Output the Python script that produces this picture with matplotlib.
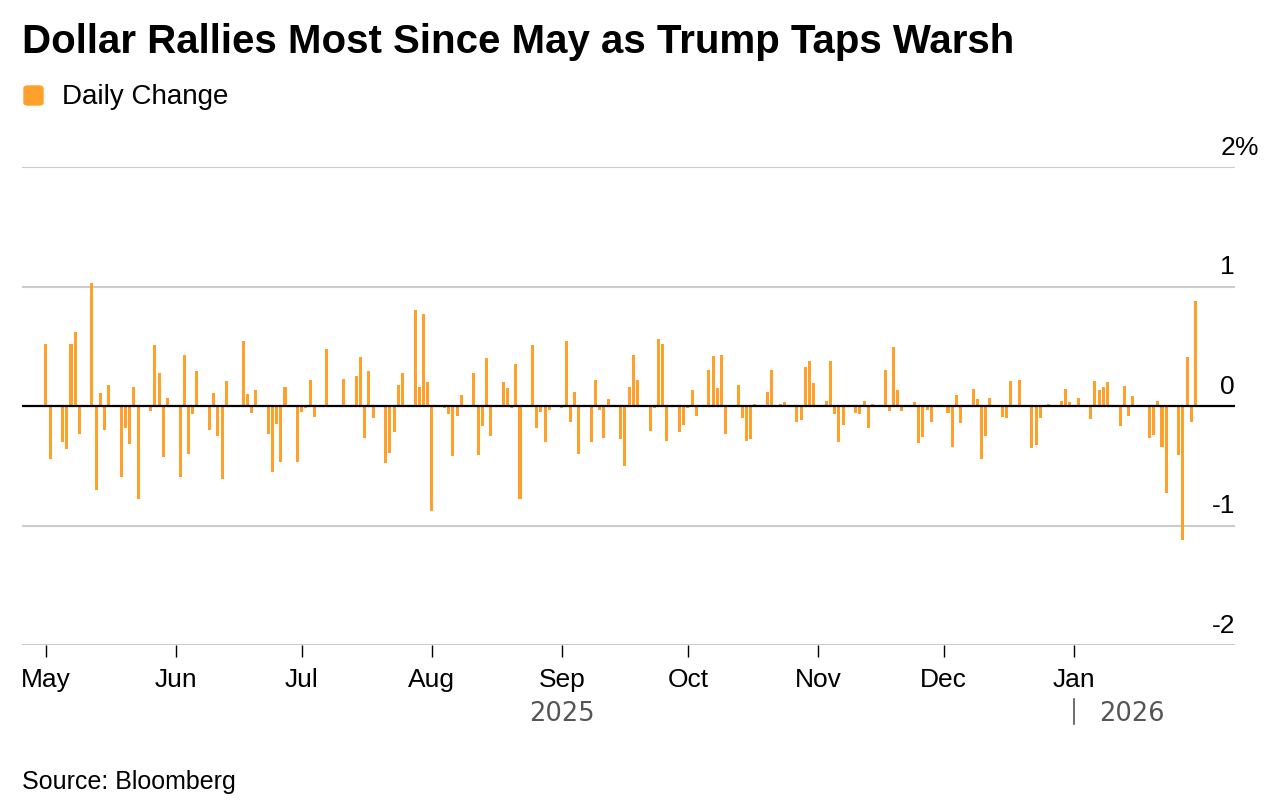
import matplotlib
matplotlib.use("Agg")
import matplotlib.pyplot as plt
import matplotlib.dates as mdates
import matplotlib.transforms as mtransforms
from matplotlib.patches import FancyBboxPatch
import numpy as np
import pandas as pd

plt.rcParams['font.family'] = ['Liberation Sans', 'DejaVu Sans']

# Daily change (%) for every weekday, May 1 2025 - Jan 30 2026
may = [0.52, -0.44,
       -0.30, -0.36, 0.52, 0.62, -0.23,
       1.03, -0.70, 0.11, -0.20, 0.18,
       -0.59, -0.18, -0.32, 0.16, -0.78,
       -0.04, 0.51, 0.28, -0.43, 0.07]
jun = [-0.59, 0.43, -0.40, -0.07, 0.29,
       -0.20, 0.11, -0.25, -0.61, 0.21,
       0.01, 0.54, 0.10, -0.06, 0.13,
       -0.23, -0.55, -0.15, -0.47, 0.16,
       -0.47]
jul = [-0.05, -0.015, 0.22, -0.09,
       0.48, 0.01, 0.01, 0.01, 0.23,
       0.25, 0.41, -0.27, 0.29, -0.10,
       -0.48, -0.39, -0.22, 0.18, 0.28,
       0.80, 0.16, 0.77, 0.20]
aug = [-0.88,
       -0.02, -0.07, -0.42, -0.08, 0.09,
       0.28, -0.41, -0.17, 0.40, -0.25,
       0.20, 0.15, -0.02, 0.35, -0.78,
       0.51, -0.18, -0.05, -0.30, -0.03]
sep = [-0.02, 0.54, -0.13, 0.12, -0.40,
       -0.30, 0.22, -0.03, -0.27, 0.06,
       -0.28, -0.50, 0.16, 0.43, 0.22,
       -0.21, -0.02, 0.56, 0.52, -0.29,
       -0.22, -0.16]
oct_ = [-0.02, 0.13, -0.08,
        0.30, 0.42, 0.15, 0.43, -0.23,
        0.18, -0.10, -0.29, -0.28, 0.02,
        0.12, 0.30, -0.005, 0.015, 0.03,
        -0.13, -0.12, 0.33, 0.38, 0.19]
nov = [0.045, 0.38, -0.07, -0.30, -0.16,
       -0.06, -0.07, 0.04, -0.18, 0.02,
       0.30, -0.04, 0.49, 0.13, -0.04,
       0.03, -0.31, -0.26, -0.03, -0.13]
dec = [-0.005, -0.06, -0.34, 0.09, -0.14,
       0.14, 0.06, -0.44, -0.25, 0.07,
       -0.09, -0.10, 0.21, 0.01, 0.22,
       -0.35, -0.33, -0.10, 0.0, 0.02,
       0.04, 0.14, 0.03]
jan = [0.0, 0.07,
       -0.11, 0.21, 0.13, 0.16, 0.20,
       -0.17, 0.17, -0.08, 0.08, 0.0,
       -0.27, -0.24, 0.04, -0.34, -0.73,
       -0.41, -1.12, 0.41, -0.13, 0.88]

values = may + jun + jul + aug + sep + oct_ + nov + dec + jan
dates = pd.bdate_range("2025-05-01", "2026-01-30")

month_ticks = pd.date_range("2025-05-01", "2026-01-01", freq="MS")
y_ticks = [-2, -1, 0, 1, 2]
y_labels = ["-2", "-1", "0", "1", "2"]

orange = "#FFA02A"

fig = plt.figure(figsize=(12.82, 8.12), dpi=100)
ax = fig.add_axes([0.0172, 0.2044, 0.9462, 0.5887])

ax.bar(dates, values, width=0.72, color=orange, edgecolor="none", zorder=2)
ax.axhline(0, color="black", lw=1.6, zorder=3)

ax.set_ylim(-2, 2)
ax.set_xlim(pd.Timestamp("2025-04-25 08:00"), pd.Timestamp("2026-02-08 10:00"))

for y in y_ticks:
    if y != 0:
        ax.axhline(y, color="#cccccc", lw=1.5, zorder=1)
ax.set_yticks([])
ytrans = ax.get_yaxis_transform()
for y, lab in zip(y_ticks, y_labels):
    ax.text(1.0, y + 0.07, lab, transform=ytrans,
            ha="right", va="bottom", fontsize=19, color="black")
# the percent sign hangs past the right edge
ax.text(1.0, 2.07, "%", transform=ytrans, ha="left", va="bottom",
        fontsize=19, color="black", clip_on=False)

for s in ax.spines.values():
    s.set_visible(False)

ax.set_xticks(month_ticks)
ax.xaxis.set_major_formatter(mdates.DateFormatter("%b"))
ax.tick_params(axis="x", direction="out", length=8.5, width=1.0, color="black",
               pad=7, labelsize=19)

# year labels
trans = mtransforms.blended_transform_factory(ax.transData, ax.transAxes)
ax.text(pd.Timestamp("2025-09-01"), -0.142, "2025", transform=trans, ha="center",
        va="center", fontsize=18.5, color="#555555", family="DejaVu Sans")
ax.plot([pd.Timestamp("2026-01-01")] * 2, [-0.113, -0.165], transform=trans,
        color="#555555", lw=1.2, clip_on=False)
ax.text(pd.Timestamp("2026-01-07"), -0.142, "2026", transform=trans, ha="left",
        va="center", fontsize=18.5, color="#555555", family="DejaVu Sans")

fig.text(0.0172, 1 - 42 / 812, "Dollar Rallies Most Since May as Trump Taps Warsh",
         fontsize=29, fontweight="bold", ha="left", va="center")
fig.patches.append(FancyBboxPatch((24 / 1282, 1 - 106 / 812), 19 / 1282, 19 / 812,
                                  boxstyle="round,pad=0,rounding_size=0.003",
                                  transform=fig.transFigure, color=orange))
fig.text(62 / 1282, 1 - 97 / 812, "Daily Change", fontsize=20, ha="left", va="center")
fig.text(0.0172, 1 - 782 / 812, "Source: Bloomberg", fontsize=18, ha="left", va="center")

fig.savefig("out.png", dpi=100)
